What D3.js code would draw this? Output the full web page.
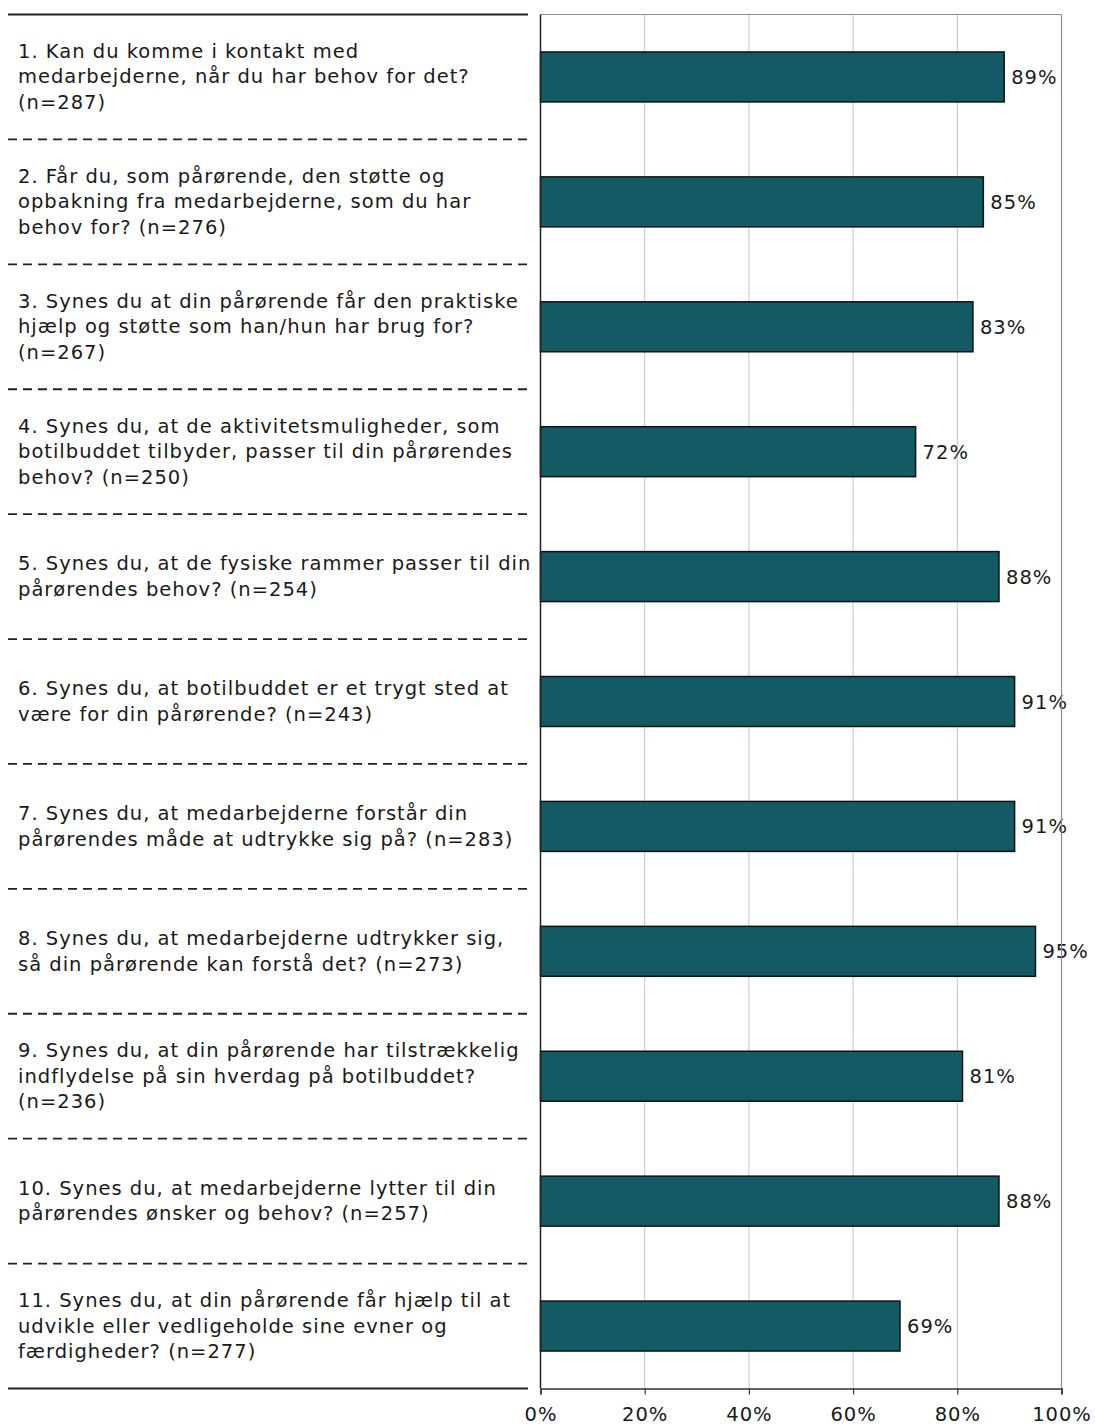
<!DOCTYPE html>
<html>
<head>
<meta charset="utf-8">
<script src="https://cdn.jsdelivr.net/npm/d3@7"></script>
<style>
  html, body { margin: 0; padding: 0; background: #fff; }
  svg { display: block; font-family: "DejaVu Sans", Verdana, sans-serif; }
</style>
</head>
<body>
<svg id="chart" width="1095" height="1425"></svg>
<script>
// Question labels, one array of wrapped lines per question
const questions = [
  ["1. Kan du komme i kontakt med", "medarbejderne, når du har behov for det?", "(n=287)"],
  ["2. Får du, som pårørende, den støtte og", "opbakning fra medarbejderne, som du har", "behov for? (n=276)"],
  ["3. Synes du at din pårørende får den praktiske", "hjælp og støtte som han/hun har brug for?", "(n=267)"],
  ["4. Synes du, at de aktivitetsmuligheder, som", "botilbuddet tilbyder, passer til din pårørendes", "behov? (n=250)"],
  ["5. Synes du, at de fysiske rammer passer til din", "pårørendes behov? (n=254)"],
  ["6. Synes du, at botilbuddet er et trygt sted at", "være for din pårørende? (n=243)"],
  ["7. Synes du, at medarbejderne forstår din", "pårørendes måde at udtrykke sig på? (n=283)"],
  ["8. Synes du, at medarbejderne udtrykker sig,", "så din pårørende kan forstå det? (n=273)"],
  ["9. Synes du, at din pårørende har tilstrækkelig", "indflydelse på sin hverdag på botilbuddet?", "(n=236)"],
  ["10. Synes du, at medarbejderne lytter til din", "pårørendes ønsker og behov? (n=257)"],
  ["11. Synes du, at din pårørende får hjælp til at", "udvikle eller vedligeholde sine evner og", "færdigheder? (n=277)"]
];

// Share answering positively, in percent
const values = [89, 85, 83, 72, 88, 91, 91, 95, 81, 88, 69];

// Axis ticks
const tickValues = [0, 20, 40, 60, 80, 100];

const FONT = "'DejaVu Sans', Verdana, sans-serif";
const FS = 19.5, LS = 1.0;

const svg = d3.select("#chart");
const plot = { left: 540.5, right: 1061.5, top: 14.5, bottom: 1388.5 };
const labelLeft = 8, labelRight = 528, textX = 18;

const ids = questions.map((_, i) => i);
const y = d3.scaleBand().domain(ids).range([plot.top, plot.bottom]).paddingInner(0.6).paddingOuter(0.3);
const band = d3.scaleBand().domain(ids).range([plot.top, plot.bottom]);
const x = d3.scaleLinear().domain([0, 100]).range([plot.left, plot.right]);

// Vertical gridlines
svg.append("g")
  .selectAll("line")
  .data(tickValues.slice(1, -1))
  .join("line")
  .attr("x1", d => x(d)).attr("x2", d => x(d))
  .attr("y1", plot.top).attr("y2", plot.bottom)
  .attr("stroke", "#c4c4c4").attr("stroke-width", 1);

// Plot frame: top in grey
svg.append("line")
  .attr("x1", plot.left).attr("x2", plot.right)
  .attr("y1", plot.top).attr("y2", plot.top)
  .attr("stroke", "#8c8c8c").attr("stroke-width", 1.2);

// Bars
svg.append("g")
  .selectAll("rect")
  .data(values)
  .join("rect")
  .attr("x", x(0))
  .attr("y", (d, i) => y(i))
  .attr("width", d => x(d) - x(0))
  .attr("height", y.bandwidth())
  .attr("fill", "#135a64")
  .attr("stroke", "#111")
  .attr("stroke-width", 1.5);

// Value labels
svg.append("g")
  .selectAll("text")
  .data(values)
  .join("text")
  .attr("x", d => x(d) + 7)
  .attr("y", (d, i) => y(i) + y.bandwidth() / 2)
  .attr("dy", "0.36em")
  .attr("font-size", FS)
  .attr("letter-spacing", LS)
  .attr("fill", "#1a1a1a")
  .text(d => d + "%");

// Right frame edge drawn over the labels
svg.append("line")
  .attr("x1", plot.right).attr("x2", plot.right)
  .attr("y1", plot.top).attr("y2", plot.bottom)
  .attr("stroke", "#8c8c8c").attr("stroke-width", 1.2);

// Left axis line
svg.append("line")
  .attr("x1", plot.left).attr("x2", plot.left)
  .attr("y1", plot.top).attr("y2", plot.bottom)
  .attr("stroke", "#222").attr("stroke-width", 1.5);

// Bottom axis
const xAxis = d3.axisBottom(x)
  .tickValues(tickValues)
  .tickFormat(d => d + "%")
  .tickSize(6)
  .tickPadding(13);
const gx = svg.append("g")
  .attr("transform", `translate(0,${plot.bottom})`)
  .call(xAxis);
gx.select(".domain").attr("stroke", "#333").attr("stroke-width", 1.5);
gx.selectAll(".tick line").attr("stroke", "#333").attr("stroke-width", 1.2);
gx.selectAll(".tick text")
  .attr("font-family", FONT)
  .attr("font-size", FS)
  .attr("letter-spacing", LS)
  .attr("fill", "#1a1a1a");

// Label column: solid rules at top and bottom, dashed between questions
svg.append("line")
  .attr("x1", labelLeft).attr("x2", labelRight)
  .attr("y1", plot.top).attr("y2", plot.top)
  .attr("stroke", "#222").attr("stroke-width", 2);
svg.append("line")
  .attr("x1", labelLeft).attr("x2", labelRight)
  .attr("y1", plot.bottom).attr("y2", plot.bottom)
  .attr("stroke", "#222").attr("stroke-width", 2);
svg.append("g")
  .selectAll("line")
  .data(ids.slice(1))
  .join("line")
  .attr("x1", labelLeft).attr("x2", labelRight)
  .attr("y1", d => band(d)).attr("y2", d => band(d))
  .attr("stroke", "#222").attr("stroke-width", 1.8)
  .attr("stroke-dasharray", "9,6");

// Question text, vertically centred in each band
const lineH = 25.5;
svg.append("g")
  .selectAll("text")
  .data(questions)
  .join("text")
  .attr("font-size", FS)
  .attr("letter-spacing", LS)
  .attr("fill", "#1a1a1a")
  .each(function (lines, i) {
    const cy = band(i) + band.bandwidth() / 2 - 0.5;
    const y0 = cy - (lines.length - 1) * lineH / 2;
    d3.select(this).selectAll("tspan")
      .data(lines)
      .join("tspan")
      .attr("x", textX)
      .attr("y", (d, j) => y0 + j * lineH)
      .attr("dy", "0.36em")
      .text(d => d);
  });
</script>
</body>
</html>
